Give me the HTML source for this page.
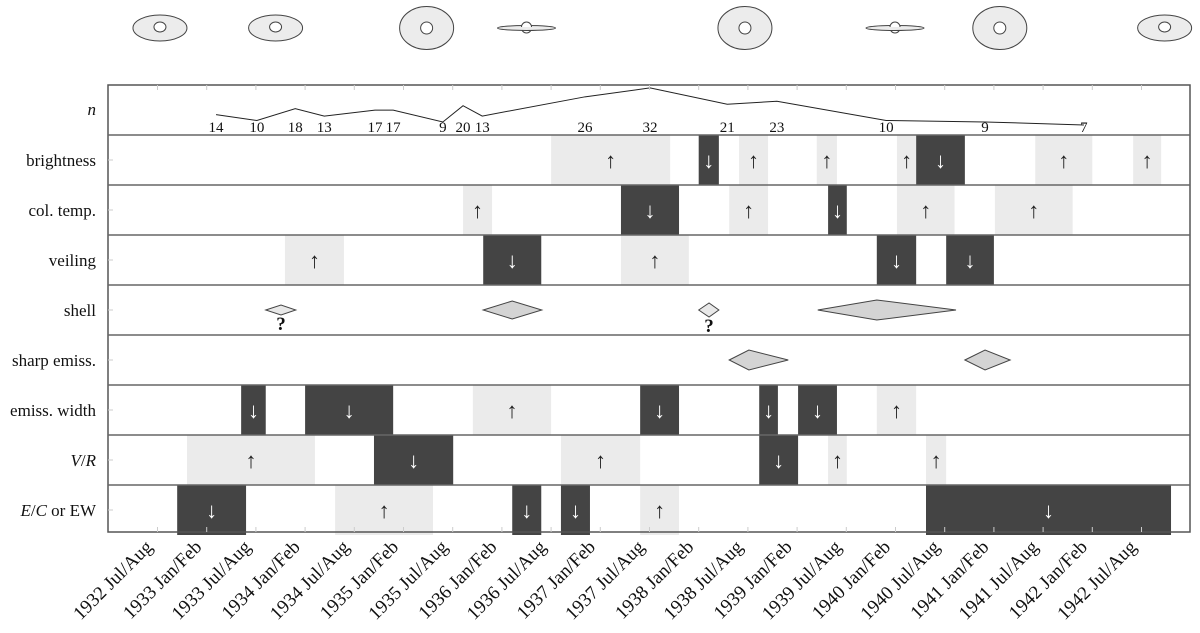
<!DOCTYPE html>
<html><head><meta charset="utf-8"><style>
body{margin:0;background:#fff;width:1200px;height:628px;overflow:hidden}
svg text{font-family:"Liberation Serif",serif}
</style></head><body>
<svg id="c" width="1200" height="628" viewBox="0 0 1200 628" xmlns="http://www.w3.org/2000/svg"></svg>
<script>
// x positions in half-year index units (0 = 1932 Jul/Aug)
const tickLabels=["1932 Jul/Aug","1933 Jan/Feb","1933 Jul/Aug","1934 Jan/Feb","1934 Jul/Aug","1935 Jan/Feb","1935 Jul/Aug","1936 Jan/Feb","1936 Jul/Aug","1937 Jan/Feb","1937 Jul/Aug","1938 Jan/Feb","1938 Jul/Aug","1939 Jan/Feb","1939 Jul/Aug","1940 Jan/Feb","1940 Jul/Aug","1941 Jan/Feb","1941 Jul/Aug","1942 Jan/Feb","1942 Jul/Aug"];
const rowLabels=["brightness","col. temp.","veiling","shell","sharp emiss.","emiss. width","V/R","E/C or EW"];
const nTimes=[1.19,2.02,2.8,3.39,4.42,4.79,5.8,6.21,6.6,8.69,10.01,11.58,12.59,14.81,16.82,18.83];
const nValues=[14,10,18,13,17,17,9,20,13,26,32,21,23,10,9,7];
// bars: [start, end, direction(1 up light, -1 down dark)]
const brightness=[[8.0,10.42,1],[11.0,11.41,-1],[11.82,12.41,1],[13.4,13.81,1],[15.03,15.42,1],[15.42,16.41,-1],[17.84,19.0,1],[19.83,20.4,1]];
const colTemp=[[6.21,6.8,1],[9.42,10.6,-1],[11.62,12.41,1],[13.63,14.01,-1],[15.03,16.2,1],[17.02,18.6,1]];
const veiling=[[2.59,3.79,1],[6.62,7.8,-1],[9.42,10.8,1],[14.62,15.42,-1],[16.03,17.0,-1]];
const emissWidth=[[1.7,2.2,-1],[3.0,4.79,-1],[6.41,8.0,1],[9.81,10.6,-1],[12.23,12.61,-1],[13.02,13.81,-1],[14.62,15.42,1]];
const vr=[[0.6,3.2,1],[4.4,6.01,-1],[8.2,9.81,1],[12.23,13.02,-1],[13.63,14.01,1],[15.62,16.03,1]];
const ec=[[0.4,1.8,-1],[3.61,5.6,1],[7.21,7.8,-1],[8.2,8.79,-1],[9.81,10.6,1],[15.62,20.6,-1]];
// kites: [start, peak, end, halfHeight, questionMark]
const shell=[[2.2,2.51,2.81,5,1],[6.62,7.21,7.81,9,0],[11.0,11.21,11.41,7,1],[13.42,14.62,16.23,10,0]];
const sharp=[[11.62,12.02,12.82,10,0],[16.41,16.82,17.33,10,0]];
// top icons: [time, type]
const icons=[[0.05,"e"],[2.4,"e"],[5.47,"c"],[7.5,"s"],[11.94,"c"],[14.99,"s"],[17.12,"c"],[20.47,"e"]];

const svg=document.getElementById('c');
const NS="http://www.w3.org/2000/svg";
const X0=157.5,DX=49.2,L=108,R=1190,TOP=85,RH=50;
const x=t=>X0+DX*t;
const yN=v=>135.3-1.48*v;
const rowTop=i=>135+RH*i;
function el(tag,attrs,parent){const e=document.createElementNS(NS,tag);for(const k in attrs)e.setAttribute(k,attrs[k]);(parent||svg).appendChild(e);return e;}

icons.forEach(([t,type])=>{
  const g=el('g',{});
  
  
  const cx=x(t),cy=28;
  if(type==="e"){el('ellipse',{cx,cy,rx:27,ry:13,fill:'#ececec',stroke:'#444','stroke-width':1},g);el('ellipse',{cx,cy:cy-1,rx:6,ry:5,fill:'#fff',stroke:'#444'},g);}
  else if(type==="c"){el('ellipse',{cx,cy,rx:27,ry:21.5,fill:'#ececec',stroke:'#444'},g);el('circle',{cx,cy,r:6,fill:'#fff',stroke:'#444'},g);}
  else{el('circle',{cx,cy,r:5,fill:'#fff',stroke:'#444'},g);el('ellipse',{cx,cy,rx:29,ry:2.5,fill:'#ececec',stroke:'#444'},g);el('path',{d:`M${cx-5} ${cy-1} A5 5 0 0 1 ${cx+5} ${cy-1}`,fill:'#fff',stroke:'#444'},g);}
});

const barRows=[brightness,colTemp,veiling,null,null,emissWidth,vr,ec];
barRows.forEach((rows,i)=>{
  if(!rows)return;
  rows.forEach(([a,b,d])=>{
    const r=el('rect',{x:x(a),y:rowTop(i),width:x(b)-x(a),height:RH,fill:d>0?'#ebebeb':'#444'});
    
    
    const tx=el('text',{x:(x(a)+x(b))/2,y:rowTop(i)+RH/2+8,'text-anchor':'middle','font-size':22,fill:d>0?'#222':'#fff'});
    tx.textContent=d>0?'↑':'↓';
    
    
  });
});
[[shell,3],[sharp,4]].forEach(([arr,i])=>{
  arr.forEach(([a,p,b,h,q])=>{
    const cy=rowTop(i)+RH/2;
    const k=el('polygon',{points:`${x(a)},${cy} ${x(p)},${cy-h} ${x(b)},${cy} ${x(p)},${cy+h}`,fill:q?'#e8e8e8':'#d4d4d4',stroke:'#444','stroke-width':1});
    
    
    if(q){const t=el('text',{x:x(p),y:cy+h+15,'text-anchor':'middle','font-size':19,'font-weight':'bold',fill:'#111'});t.textContent='?';
      
      }
  });
});

const pl=el('polyline',{points:nTimes.map((t,i)=>`${x(t)},${yN(nValues[i])}`).join(' '),fill:'none',stroke:'#222','stroke-width':1});


nTimes.forEach((t,i)=>{const tx=el('text',{x:x(t),y:132,'text-anchor':'middle','font-size':15,fill:'#111'});tx.textContent=nValues[i];
  
  });

const fr=el('rect',{x:L,y:TOP,width:R-L,height:532-TOP,fill:'none',stroke:'#555','stroke-width':1.5});


for(let i=0;i<8;i++){el('line',{x1:L,x2:R,y1:rowTop(i),y2:rowTop(i),stroke:'#666','stroke-width':1.5});}
tickLabels.forEach((lab,i)=>{
  el('line',{x1:x(i),x2:x(i),y1:TOP,y2:TOP+5,stroke:'#ccc'});
  el('line',{x1:x(i),x2:x(i),y1:527,y2:532,stroke:'#ccc'});
  const t=el('text',{x:x(i)-4,y:548,'text-anchor':'end','font-size':19,fill:'#111',transform:`rotate(-45 ${x(i)-4} 548)`});
  t.textContent=lab;
  
  
});
const nl=el('text',{x:96,y:115,'text-anchor':'end','font-size':17,'font-style':'italic',fill:'#111'});nl.textContent='n';


rowLabels.forEach((lab,i)=>{
  el('line',{x1:L,x2:L+5,y1:rowTop(i)+RH/2,y2:rowTop(i)+RH/2,stroke:'#ccc'});
  const t=el('text',{x:96,y:rowTop(i)+RH/2+6,'text-anchor':'end','font-size':17,fill:'#111'});
  if(lab==="V/R"){t.innerHTML='<tspan font-style="italic">V</tspan>/<tspan font-style="italic">R</tspan>';}
  else if(lab==="E/C or EW"){t.innerHTML='<tspan font-style="italic">E</tspan>/<tspan font-style="italic">C</tspan> or EW';}
  else t.textContent=lab;
  
  
});
</script>
</body></html>
